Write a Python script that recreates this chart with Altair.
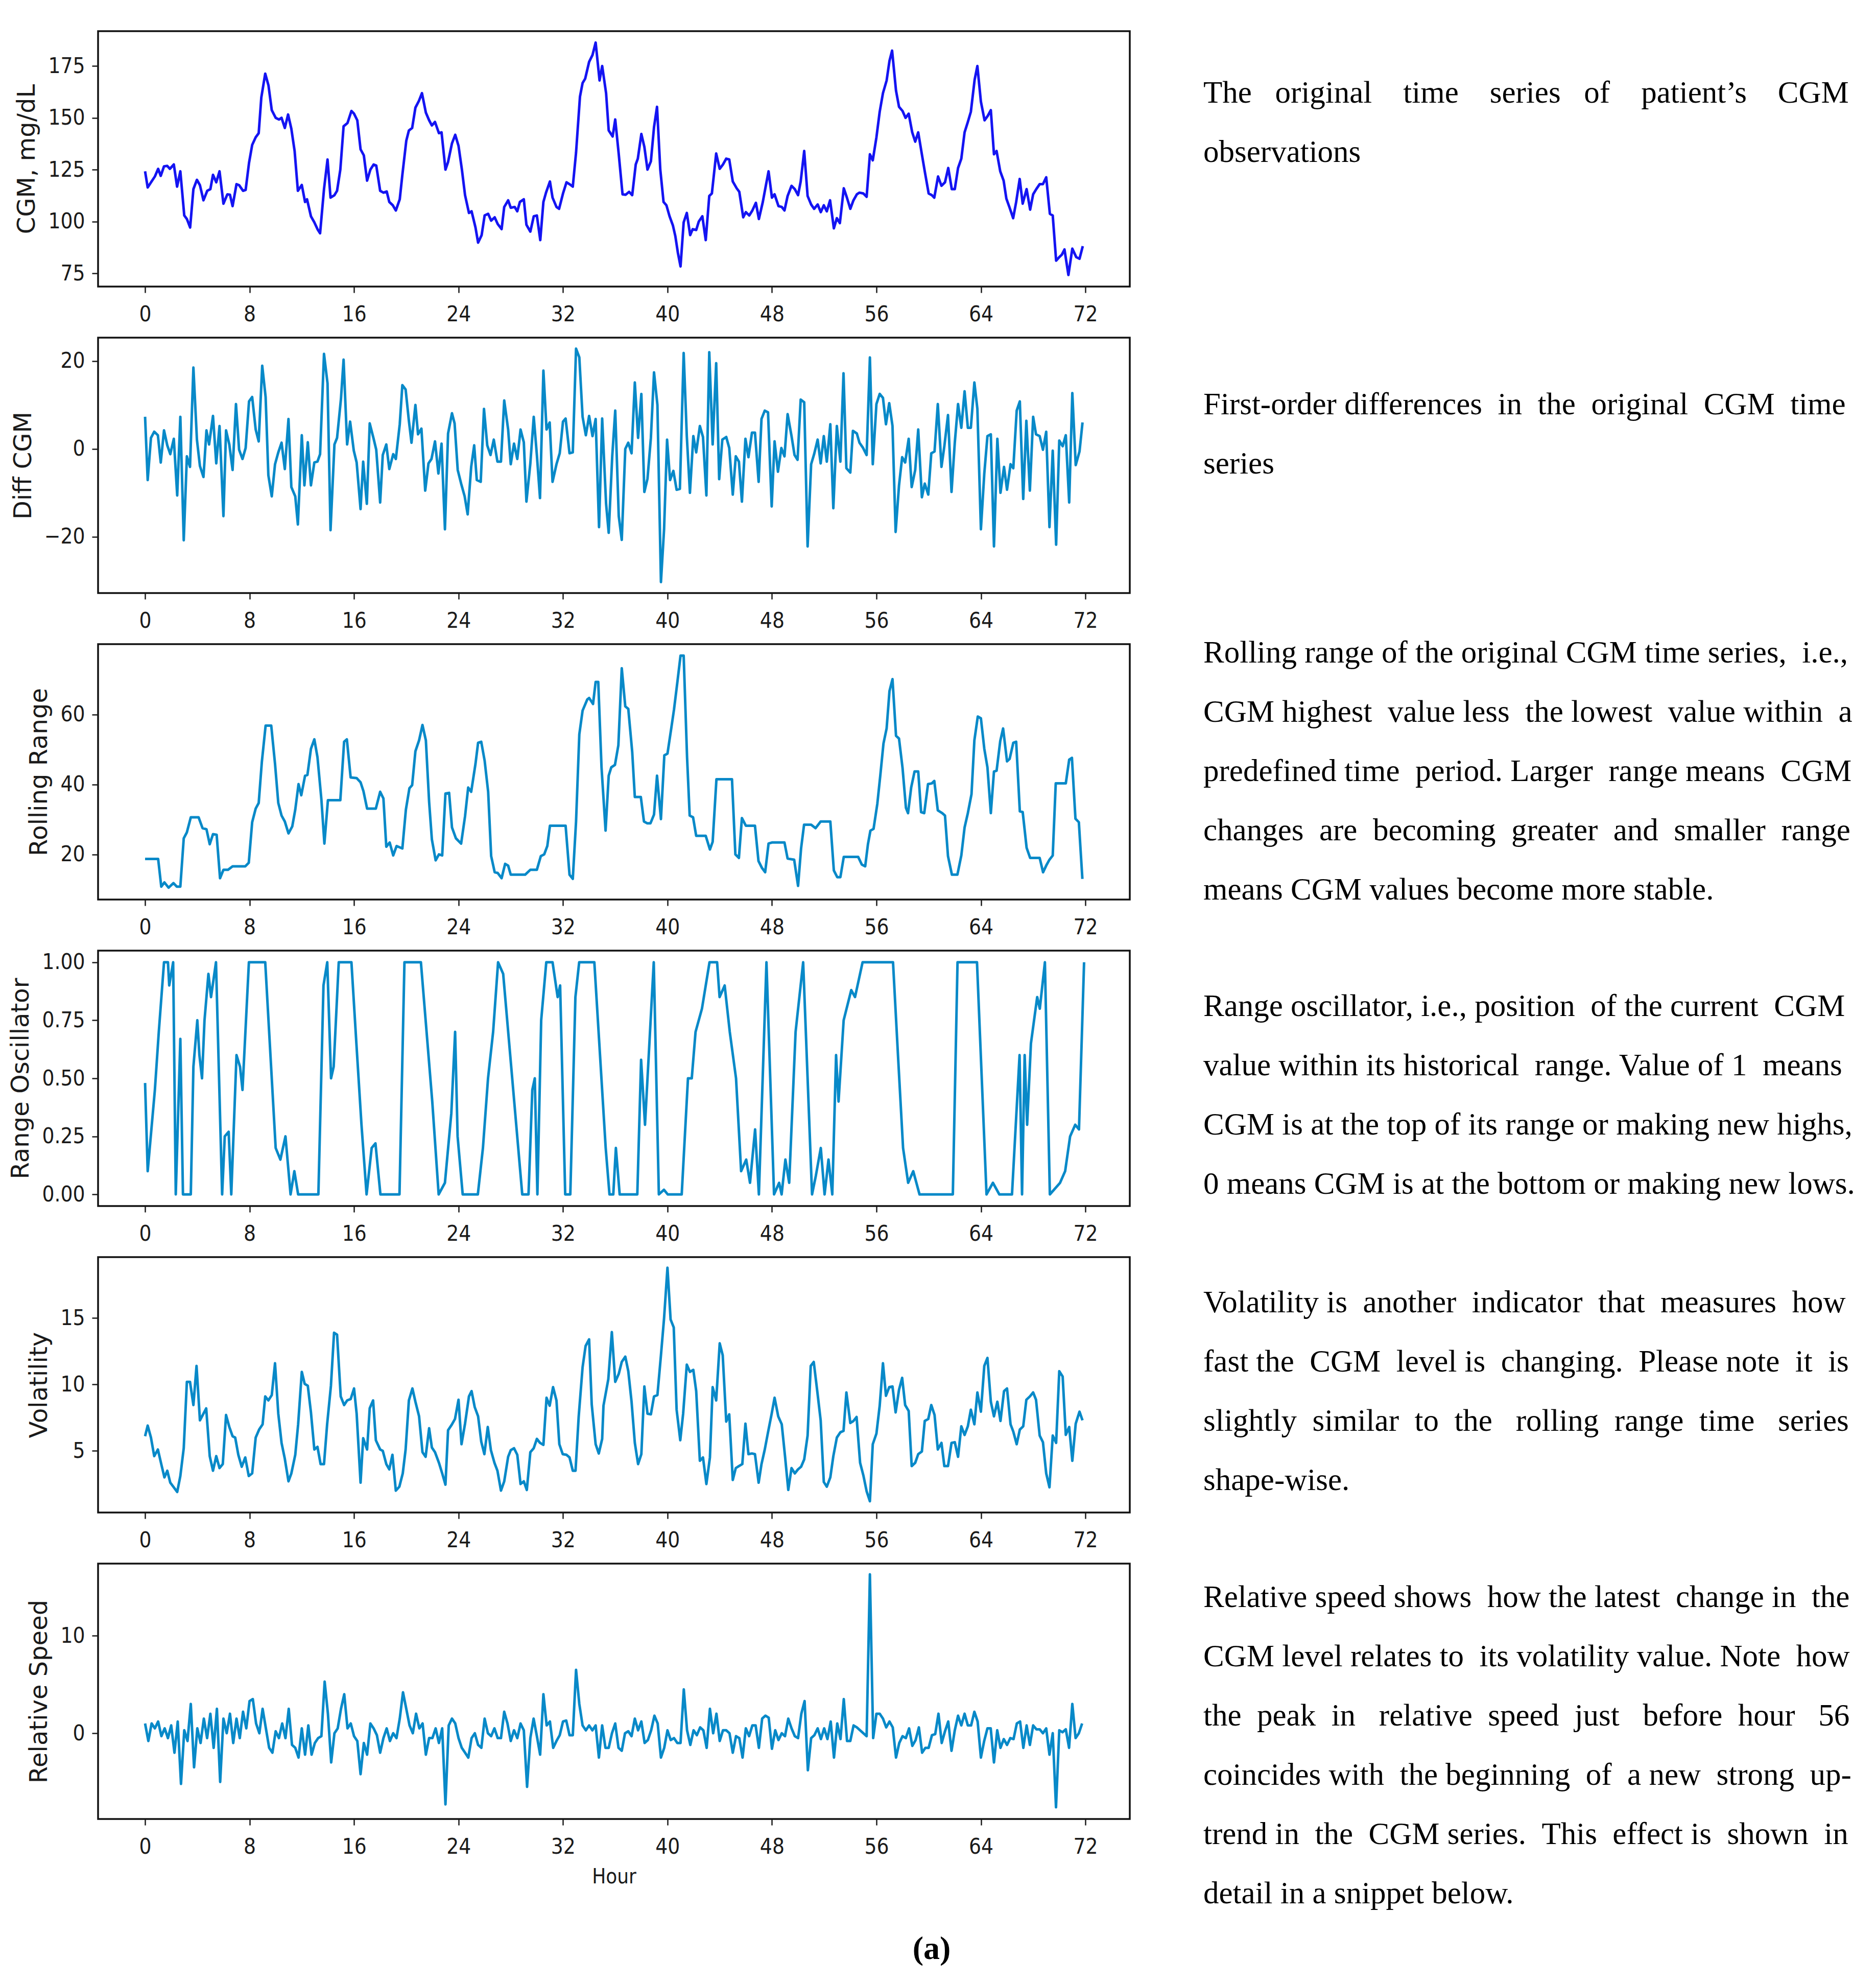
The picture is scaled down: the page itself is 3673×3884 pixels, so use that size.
import altair as alt
import pandas as pd

HOUR_TICKS = [0, 8, 16, 24, 32, 40, 48, 56, 64, 72]

# (hour, value) pairs
cgm = [(0,124.2),(0.2,116.4),(0.5,119.3),(0.75,121.7),(1.0,125.4),(1.2,122),(1.45,126.6),(1.7,126.8),(1.9,125.4),(2.2,127.5),
(2.45,116.8),(2.7,124.2),(3.0,102.9),(3.2,101.2),(3.45,97.1),(3.7,115.6),(3.97,120.1),(4.2,117.5),(4.47,110.2),(4.76,114.8),
(5.0,115.6),(5.2,122.5),(5.45,118.9),(5.7,124.2),(6.0,108.6),(6.3,113.1),(6.5,112.9),(6.7,107.4),(7.0,118),(7.2,117.5),
(7.5,114.8),(7.7,115.2),(7.96,128.3),(8.2,136.9),(8.47,140.6),(8.7,142.6),(8.9,159.8),(9.2,171.3),(9.45,165.6),(9.7,153.7),
(10.0,150),(10.26,149.2),(10.45,150),(10.7,145.1),(10.95,151.6),(11.2,144.7),(11.45,134),(11.7,114.8),(12.0,117.6),(12.25,109.4),
(12.4,110.7),(12.7,102.5),(12.96,99.6),(13.2,96.3),(13.4,94.3),(13.7,115.6),(13.97,129.9),(14.2,111.5),(14.5,112.7),(14.7,114.8),
(14.95,125),(15.2,145.9),(15.5,147.5),(15.8,153.3),(16.0,152),(16.25,148.8),(16.5,134.8),(16.75,131.9),(17.0,119.7),(17.25,125),
(17.5,127.5),(17.7,127),(18.0,114.8),(18.25,113.9),(18.5,114.5),(18.7,109.4),(18.97,107.8),(19.2,105.3),(19.5,110.7),(19.7,122.5),
(20.0,138.9),(20.2,143.9),(20.45,145.1),(20.7,154.9),(20.97,158.2),(21.2,161.9),(21.5,152.5),(21.75,148.8),(21.96,146.3),(22.2,148),
(22.5,142.6),(22.7,143),(23.0,125),(23.2,128.7),(23.5,137.7),(23.75,141.8),(24.0,136.5),(24.26,125),(24.5,112.7),(24.8,104.1),
(25.0,104.9),(25.3,97.1),(25.5,89.8),(25.77,93.4),(26.0,102.9),(26.27,103.7),(26.5,100.4),(26.77,102),(27.0,98.8),(27.3,96.3),
(27.5,107),(27.8,110.2),(28.0,106.6),(28.3,107),(28.5,104.9),(28.7,109.4),(29.0,110.7),(29.2,98.4),(29.5,95.1),(29.76,102.5),
(30.0,102.9),(30.26,91),(30.5,109.4),(30.7,113.9),(31.0,119.3),(31.2,111.5),(31.5,107),(31.7,106.1),(32.0,113.5),(32.27,118.9),
(32.5,118),(32.75,116.8),(33.0,133.2),(33.3,160.2),(33.5,166.8),(33.7,168.9),(34.0,177),(34.26,180.3),(34.5,186.3),(34.8,168),
(35.0,175),(35.3,161.9),(35.5,143.9),(35.8,141),(36.0,149.2),(36.27,132.4),(36.56,113.1),(36.8,112.9),(37.06,114.3),(37.3,112.7),
(37.57,127.5),(37.73,130.3),(38.0,142.2),(38.23,136),(38.47,125),(38.73,129),(38.97,145.5),(39.2,155.3),(39.45,125),(39.7,109.4),
(39.92,107.8),(40.16,102.5),(40.42,98),(40.6,93),(40.8,84.8),(41.0,78.3),(41.24,99.6),(41.48,104.1),(41.74,93.4),(41.93,96.3),
(42.2,95.9),(42.4,100),(42.67,102.5),(42.93,91),(43.2,112.3),(43.4,113.5),(43.73,132.8),(44.0,125.4),(44.25,127.5),(44.5,130.3),
(44.73,129.9),(45.0,119.3),(45.3,116),(45.5,114.3),(45.8,102),(46.0,104.5),(46.26,102.9),(46.5,105.3),(46.77,109),(47.0,101.2),
(47.3,109.4),(47.53,117.2),(47.74,124.2),(48.0,111.5),(48.2,113.1),(48.5,107.4),(48.75,107),(48.96,105.3),(49.2,112.3),(49.5,117.2),
(49.75,115.6),(50.0,112.7),(50.2,119.3),(50.47,134),(50.73,112.3),(51.0,108.2),(51.23,106.1),(51.5,108.2),(51.74,104.5),(51.97,107.8),
(52.2,104.9),(52.45,110.2),(52.74,96.7),(52.97,101.6),(53.2,99.2),(53.5,116),(53.74,111.5),(54.0,106.1),(54.24,110.2),(54.5,113.1),
(54.7,113.9),(55.0,113.5),(55.25,111.9),(55.5,132.4),(55.72,129.5),(56.0,140.6),(56.25,152.9),(56.5,161.9),(56.78,168),(57.0,177.5),
(57.2,182.4),(57.5,163.1),(57.73,155.3),(58.0,153.3),(58.23,150),(58.47,152),(58.74,143),(58.97,138.5),(59.2,143),(59.48,132.4),
(59.7,124.2),(60.0,113.5),(60.24,112.7),(60.43,111.5),(60.72,121.7),(60.98,117.2),(61.25,118.9),(61.5,125.8),(61.77,115.6),(62.0,115.6),
(62.25,125.8),(62.5,130.3),(62.75,143),(63.0,148),(63.23,152.9),(63.52,168.4),(63.73,175),(64.0,157.8),(64.28,148.8),(64.52,150.9),
(64.76,153.7),(65.0,132.4),(65.2,134),(65.48,124.2),(65.74,119.7),(65.95,111),(66.2,106.6),(66.47,101.6),(66.7,109.4),(66.97,120.5),
(67.2,108.6),(67.5,115.6),(67.77,105.7),(68.0,113.1),(68.24,115.6),(68.5,118),(68.75,118),(69.0,121.3),(69.28,103.7),(69.5,102.9),
(69.76,81.1),(70.0,82.8),(70.2,84),(70.4,86.5),(70.7,74.2),(71.0,86.9),(71.3,82.8),(71.55,82),(71.8,88.1)]

diff_cgm = [(0,7.3),(0.2,-7.1),(0.45,2.5),(0.7,3.9),(0.98,3.1),(1.2,-3.1),(1.45,4.2),(1.7,0.8),(1.93,-1.2),(2.2,2.3),
(2.46,-10.6),(2.7,7.3),(2.96,-20.8),(3.2,-1.7),(3.44,-4.1),(3.7,18.5),(3.97,2.1),(4.2,-3.9),(4.47,-6.4),(4.7,4.2),
(4.9,1.0),(5.2,7.5),(5.45,-3.3),(5.7,5.2),(6.0,-15.3),(6.2,4.2),(6.45,1.0),(6.7,-4.8),(6.96,10.2),(7.2,-0.2),
(7.46,-2.3),(7.7,0.2),(7.96,10.8),(8.2,11.8),(8.47,4.4),(8.7,1.7),(8.97,18.9),(9.23,11.8),(9.44,-6.0),(9.7,-10.8),
(9.95,-3.5),(10.2,-0.8),(10.45,1.4),(10.7,-4.6),(10.98,6.8),(11.2,-8.7),(11.5,-10.8),(11.7,-17.2),(12.0,3.1),(12.2,-8.3),
(12.46,1.5),(12.7,-8.3),(12.96,-3.1),(13.2,-2.9),(13.4,-1.2),(13.7,21.6),(13.97,14.9),(14.2,-18.5),(14.5,1.0),(14.7,2.5),
(15.0,11.4),(15.2,20.3),(15.47,1.0),(15.7,6.2),(15.98,-0.4),(16.2,-3.1),(16.5,-13.7),(16.7,-2.9),(16.98,-12.5),(17.2,5.8),
(17.5,2.3),(17.7,-0.2),(18.0,-12.2),(18.2,-1.4),(18.47,1.0),(18.7,-4.6),(19.0,-1.2),(19.2,-2.3),(19.5,5.6),(19.7,14.5),
(19.95,13.5),(20.2,6.4),(20.4,1.4),(20.7,10.0),(20.9,3.3),(21.16,4.6),(21.45,-9.5),(21.7,-3.3),(21.93,-2.3),(22.2,1.7),
(22.46,-5.6),(22.7,1.2),(22.96,-18.3),(23.2,3.5),(23.5,8.1),(23.7,5.8),(23.94,-4.8),(24.2,-7.9),(24.47,-10.8),(24.7,-14.9),
(24.97,-4.1),(25.2,0.8),(25.4,-7.1),(25.7,-7.5),(25.95,9.1),(26.2,0.8),(26.45,-1.4),(26.7,2.1),(26.98,-2.9),(27.25,-2.9),
(27.5,11.0),(27.8,4.4),(28.0,-3.5),(28.25,1.2),(28.5,-2.3),(28.75,4.4),(29.0,1.5),(29.2,-12.0),(29.5,-3.3),(29.76,7.3),
(30.0,-1.4),(30.24,-11.2),(30.5,17.8),(30.74,4.4),(30.98,6.0),(31.2,-7.5),(31.5,-3.5),(31.75,-1.0),(32.0,6.2),(32.2,6.9),
(32.5,-1.0),(32.75,-0.8),(33.0,22.8),(33.25,20.8),(33.5,7.3),(33.75,3.1),(34.0,7.5),(34.26,2.9),(34.5,6.8),(34.76,-17.8),
(35.0,6.9),(35.3,-12.5),(35.5,-19.1),(35.77,-1.7),(36.0,8.7),(36.27,-15.3),(36.5,-20.7),(36.77,0),(37.0,1.4),(37.25,-1.0),
(37.5,15.1),(37.75,2.5),(38.0,12.5),(38.23,-9.8),(38.47,-6.8),(38.73,2.5),(38.97,17.4),(39.23,10.0),(39.5,-30.3),(39.74,-18.3),
(39.97,2.1),(40.2,-7.1),(40.45,-5.0),(40.7,-9.3),(40.95,-9.1),(41.24,21.8),(41.48,2.9),(41.72,-10.0),(41.98,2.9),(42.2,-0.8),
(42.48,5.2),(42.72,2.7),(42.98,-10.6),(43.2,22.0),(43.46,1.0),(43.73,19.5),(43.96,-6.9),(44.2,2.1),(44.5,2.7),(44.73,0.2),
(45.0,-10.4),(45.23,-1.7),(45.47,-2.9),(45.7,-12.0),(45.97,2.3),(46.2,-1.9),(46.47,3.7),(46.7,3.7),(46.98,-7.5),(47.2,6.8),
(47.45,8.7),(47.7,8.3),(47.98,-13.1),(48.2,1.7),(48.46,-5.2),(48.72,0.2),(48.96,-1.7),(49.2,7.9),(49.5,2.9),(49.73,-1.4),
(49.96,-2.5),(50.2,11.2),(50.47,10.6),(50.73,-22.2),(51.0,-3.5),(51.23,-1.2),(51.5,2.1),(51.73,-3.3),(51.97,2.9),(52.2,-2.9),
(52.47,5.6),(52.7,-13.5),(52.97,5.2),(53.24,-2.9),(53.48,17.2),(53.7,-4.4),(54.0,-5.4),(54.2,4.1),(54.5,3.5),(54.7,1.4),
(54.98,0.2),(55.25,-1.4),(55.5,20.8),(55.72,-3.5),(56.0,10.2),(56.25,12.5),(56.5,11.6),(56.73,5.6),(56.98,10.4),(57.23,5.2),
(57.47,-18.9),(57.73,-8.3),(57.97,-1.9),(58.2,-3.1),(58.47,2.3),(58.7,-8.7),(58.97,-4.8),(59.2,4.4),(59.48,-11.0),(59.7,-7.9),
(59.97,-10.4),(60.2,-1.0),(60.45,-0.6),(60.7,10.2),(60.98,-4.1),(61.2,0.6),(61.48,7.7),(61.75,-9.8),(62.0,1.4),(62.25,10.2),
(62.5,4.8),(62.75,13.1),(63.0,4.8),(63.23,4.8),(63.5,15.1),(63.73,9.1),(64.0,-18.3),(64.26,-5.6),(64.5,2.9),(64.76,3.3),
(65.0,-22.2),(65.26,2.3),(65.5,-10.0),(65.77,-4.1),(66.0,-9.3),(66.27,-3.5),(66.48,-4.4),(66.74,8.7),(66.98,10.8),(67.24,-11.4),
(67.48,6.4),(67.75,-9.5),(68.0,7.3),(68.22,3.3),(68.5,2.9),(68.75,-0.2),(69.0,3.9),(69.25,-17.8),(69.5,-0.4),(69.76,-21.8),
(70.0,1.9),(70.26,0.6),(70.5,3.1),(70.76,-12.2),(71.0,12.7),(71.26,-3.7),(71.55,-0.6),(71.78,6.0)]

rolling_range = [(0,18.7),(1.0,18.7),(1.24,10.8),(1.48,12.0),(1.8,10.5),(2.17,11.8),(2.43,10.8),(2.7,10.8),(2.96,24.6),(3.2,26.3),
(3.5,30.6),(4.1,30.6),(4.4,27.5),(4.7,27.2),(4.95,22.9),(5.2,25.8),(5.48,25.6),(5.74,13.2),(6.0,15.6),(6.35,15.6),
(6.7,16.6),(7.67,16.6),(7.94,17.6),(8.2,29.2),(8.47,33.1),(8.7,34.7),(8.94,46.4),(9.23,56.8),(9.66,56.8),(9.95,45.9),
(10.2,34.7),(10.45,31.1),(10.7,29.4),(10.98,26.0),(11.27,28.0),(11.5,32.8),(11.75,40.1),(11.96,36.9),(12.25,42.5),(12.43,42.7),
(12.7,50.2),(12.96,52.9),(13.2,47.8),(13.5,35.7),(13.73,23.1),(14.0,35.5),(14.95,35.5),(15.24,52.2),(15.45,52.9),(15.74,42.0),
(16.2,41.8),(16.5,40.6),(16.72,38.1),(17.0,33.1),(17.67,33.1),(18.0,37.9),(18.25,36.0),(18.47,22.2),(18.73,23.4),(19.0,19.7),
(19.26,22.4),(19.7,21.7),(19.97,32.8),(20.24,38.9),(20.45,39.8),(20.7,49.5),(20.98,52.6),(21.24,57.0),(21.5,52.6),(21.75,35.0),
(21.96,24.3),(22.25,18.3),(22.5,20.0),(22.75,19.7),(23.0,37.4),(23.28,37.6),(23.5,27.7),(23.8,24.6),(24.2,23.1),(24.5,30.9),
(24.74,39.1),(24.97,37.9),(25.3,45.9),(25.5,51.9),(25.74,52.2),(26.0,46.8),(26.27,37.9),(26.5,19.5),(26.77,14.9),(27.0,14.7),
(27.3,13.2),(27.57,17.3),(27.8,16.8),(28.0,14.2),(29.1,14.2),(29.5,15.6),(30.0,15.6),(30.3,19.5),(30.56,20.0),(30.8,22.4),
(31.0,28.2),(32.2,28.2),(32.5,14.2),(32.75,13.0),(33.0,29.4),(33.25,54.3),(33.5,61.1),(33.86,64.3),(34.0,64.7),(34.3,63.0),
(34.5,69.3),(34.7,69.3),(34.95,44.9),(35.26,26.8),(35.5,42.5),(35.7,44.9),(35.98,45.6),(36.24,51.2),(36.5,73.2),(36.77,62.3),
(37.0,61.6),(37.3,49.3),(37.5,36.4),(37.96,36.4),(38.2,29.4),(38.44,28.9),(38.7,28.9),(38.97,31.4),(39.2,42.5),(39.5,30.1),
(39.76,48.3),(40.0,48.8),(40.3,56.3),(40.5,61.4),(40.77,69.6),(41.0,76.8),(41.24,76.8),(41.5,47.8),(41.7,31.1),(41.96,30.6),
(42.2,25.3),(42.93,25.3),(43.25,21.4),(43.46,23.6),(43.75,41.5),(44.94,41.5),(45.2,20.0),(45.47,19.0),(45.7,30.4),(46.0,28.2),
(46.7,28.2),(46.97,18.1),(47.24,16.1),(47.48,14.9),(47.74,23.1),(48.0,23.4),(48.96,23.4),(49.2,18.8),(49.7,18.5),(50.0,11.0),
(50.23,21.7),(50.46,28.5),(51.0,28.5),(51.34,27.5),(51.73,29.4),(52.47,29.4),(52.74,15.4),(53.0,13.5),(53.24,13.5),(53.5,19.3),
(54.6,19.3),(54.88,17.1),(55.14,16.6),(55.35,22.9),(55.54,26.8),(55.78,27.3),(56.07,34.5),(56.3,42.7),(56.54,51.7),(56.78,56.0),
(57.0,66.7),(57.23,70.1),(57.5,53.9),(57.73,53.1),(58.0,44.7),(58.26,33.3),(58.42,31.8),(58.66,39.1),(58.92,43.7),(59.2,43.7),
(59.42,32.1),(59.66,31.8),(59.95,40.1),(60.24,40.3),(60.43,41.0),(60.7,32.6),(61.04,31.8),(61.25,31.1),(61.48,19.5),(61.78,14.2),
(62.2,14.2),(62.5,19.7),(62.75,27.7),(63.0,31.8),(63.28,37.2),(63.5,52.6),(63.76,59.4),(64.0,58.9),(64.26,50.2),(64.5,44.9),
(64.76,31.8),(65.0,43.7),(65.2,43.9),(65.48,52.4),(65.7,56.0),(66.0,46.6),(66.2,47.3),(66.48,51.9),(66.7,52.2),(66.98,32.3),
(67.2,32.1),(67.5,21.9),(67.77,19.0),(68.5,19.0),(68.76,14.9),(69.0,16.8),(69.25,18.5),(69.5,19.7),(69.73,40.3),(70.5,40.3),
(70.76,47.1),(70.97,47.6),(71.24,30.2),(71.5,29.2),(71.77,13.0)]

range_osc = [(0,0.48),(0.2,0.1),(0.75,0.45),(1.05,0.7),(1.45,1.0),(1.75,1.0),(1.85,0.9),(2.15,1.0),(2.35,0.0),(2.7,0.67),
(2.9,0.0),(3.5,0.0),(3.7,0.55),(4.0,0.75),(4.16,0.6),(4.36,0.5),(4.55,0.75),(4.85,0.95),(5.05,0.85),(5.43,1.0),
(5.9,0.0),(6.1,0.25),(6.4,0.27),(6.6,0.0),(7.0,0.6),(7.27,0.55),(7.46,0.45),(7.95,1.0),(9.2,1.0),(9.6,0.6),
(10.0,0.2),(10.36,0.15),(10.75,0.25),(11.14,0.0),(11.43,0.1),(11.72,0.0),(13.27,0.0),(13.66,0.9),(13.95,1.0),(14.24,0.5),
(14.44,0.55),(14.83,1.0),(15.8,1.0),(16.18,0.65),(16.57,0.3),(16.96,0.0),(17.35,0.2),(17.64,0.22),(18.02,0.0),(19.48,0.0),
(19.86,1.0),(21.12,1.0),(21.99,0.4),(22.48,0.0),(22.96,0.05),(23.45,0.35),(23.74,0.7),(23.93,0.25),(24.32,0.0),(25.48,0.0),
(25.87,0.2),(26.26,0.5),(26.65,0.7),(27.03,1.0),(27.42,0.95),(28.88,0.0),(29.36,0.0),(29.65,0.45),(29.84,0.5),(30.04,0.0),
(30.33,0.75),(30.72,1.0),(31.2,1.0),(31.59,0.85),(31.78,0.9),(32.17,0.0),(32.56,0.0),(32.95,0.85),(33.24,1.0),(34.4,1.0),
(35.27,0.2),(35.56,0.0),(35.85,0.0),(36.05,0.2),(36.34,0.0),(37.69,0.0),(37.98,0.58),(38.28,0.3),(38.95,1.0),(39.34,0.0),
(39.73,0.02),(40.02,0.0),(41.09,0.0),(41.57,0.5),(41.86,0.5),(42.15,0.7),(42.64,0.8),(43.22,1.0),(43.8,1.0),(43.99,0.85),
(44.38,0.9),(44.77,0.7),(45.25,0.5),(45.64,0.1),(46.03,0.15),(46.32,0.05),(46.71,0.28),(47.0,0.0),(47.58,1.0),(48.16,0.0),
(48.55,0.05),(48.74,0.0),(49.03,0.15),(49.32,0.05),(49.81,0.7),(50.39,1.0),(51.07,0.0),(51.36,0.08),(51.74,0.2),(52.03,0.0),
(52.33,0.15),(52.62,0.0),(52.91,0.6),(53.1,0.4),(53.49,0.75),(54.07,0.88),(54.36,0.85),(54.94,1.0),(57.27,1.0),(57.65,0.6),
(58.04,0.2),(58.43,0.05),(58.82,0.1),(59.3,0.0),(61.85,0.0),(62.21,1.0),(63.7,1.0),(64.43,0.0),(64.92,0.05),(65.41,0.0),
(66.38,0.0),(66.96,0.6),(67.15,0.0),(67.35,0.6),(67.54,0.3),(67.83,0.65),(68.31,0.85),(68.51,0.8),(68.9,1.0),(69.28,0.0),
(70.06,0.05),(70.45,0.1),(70.83,0.25),(71.22,0.3),(71.51,0.28),(71.9,1.0)]

volatility = [(0,6.1),(0.2,6.9),(0.45,6.0),(0.7,4.6),(0.98,5.1),(1.24,4.0),(1.48,3.0),(1.7,3.5),(1.93,2.6),(2.2,2.25),
(2.46,1.9),(2.7,3.1),(2.96,5.2),(3.2,10.2),(3.44,10.2),(3.7,8.45),(3.94,11.4),(4.2,7.3),(4.44,7.75),(4.68,8.2),
(4.95,4.6),(5.2,3.5),(5.45,4.6),(5.7,3.7),(5.95,4.0),(6.2,7.7),(6.45,6.8),(6.7,6.1),(6.9,6.0),(7.14,4.7),
(7.4,3.8),(7.67,4.5),(7.94,3.1),(8.2,3.3),(8.47,6.0),(8.73,6.6),(9.0,7.0),(9.2,9.1),(9.44,8.8),(9.7,9.2),
(9.95,11.6),(10.2,7.8),(10.45,5.6),(10.7,4.4),(10.98,2.7),(11.2,3.3),(11.5,4.7),(11.72,7.0),(12.0,10.95),(12.22,10.05),
(12.46,9.9),(12.7,7.9),(12.96,5.1),(13.2,5.3),(13.44,4.0),(13.7,4.0),(13.94,7.0),(14.23,9.9),(14.47,13.9),(14.7,13.75),
(14.98,9.1),(15.24,8.45),(15.47,8.8),(15.74,8.9),(16.0,9.7),(16.2,7.8),(16.5,2.6),(16.7,5.95),(17.0,5.1),(17.2,8.2),
(17.46,8.8),(17.67,5.8),(18.0,5.1),(18.2,5.0),(18.47,4.0),(18.7,3.6),(18.94,4.7),(19.2,2.0),(19.47,2.3),(19.73,3.3),
(19.95,5.1),(20.2,8.8),(20.47,9.7),(20.7,8.7),(20.98,7.6),(21.24,4.9),(21.48,4.55),(21.75,6.7),(21.96,5.25),(22.2,4.9),
(22.5,4.1),(22.75,3.3),(23.0,2.45),(23.2,6.55),(23.5,7.0),(23.73,7.4),(24.0,8.85),(24.23,5.5),(24.5,7.05),(24.8,9.1),
(25.0,9.5),(25.24,8.3),(25.5,7.6),(25.74,5.7),(25.98,4.75),(26.24,6.8),(26.48,5.05),(26.75,4.1),(26.98,3.5),(27.25,2.0),
(27.5,2.7),(27.8,4.55),(28.0,5.05),(28.25,5.2),(28.5,4.7),(28.75,2.5),(29.0,2.7),(29.23,2.05),(29.5,4.9),(29.76,5.2),
(30.0,5.9),(30.24,5.6),(30.5,5.45),(30.74,9.0),(30.98,8.4),(31.24,9.8),(31.5,8.8),(31.72,5.5),(31.98,4.75),(32.27,4.7),
(32.5,4.5),(32.75,3.5),(32.96,3.5),(33.2,7.55),(33.5,11.3),(33.73,12.9),(34.0,13.4),(34.2,8.5),(34.5,5.5),(34.74,4.8),
(35.0,5.9),(35.1,8.4),(35.47,10.4),(35.74,13.95),(36.0,10.2),(36.27,10.8),(36.5,11.7),(36.77,12.1),(37.0,11.0),(37.25,8.7),
(37.5,5.6),(37.75,4.0),(38.0,4.75),(38.23,9.85),(38.47,7.8),(38.73,7.75),(38.97,9.1),(39.23,9.2),(39.5,12.2),(39.74,15.0),
(40.0,18.8),(40.24,14.9),(40.48,14.3),(40.7,8.1),(40.98,5.8),(41.2,7.8),(41.48,11.5),(41.72,10.95),(41.98,11.1),(42.2,9.5),
(42.48,4.25),(42.72,4.5),(42.98,2.5),(43.25,4.5),(43.46,9.8),(43.73,8.8),(44.0,13.1),(44.23,12.2),(44.5,7.2),(44.73,7.75),
(45.0,2.8),(45.23,3.7),(45.47,3.85),(45.73,4.0),(45.97,7.05),(46.2,4.75),(46.47,4.8),(46.7,4.75),(46.98,2.6),(47.2,4.0),
(47.45,5.1),(47.7,6.4),(47.98,7.8),(48.2,9.0),(48.48,7.6),(48.75,7.0),(49.0,4.6),(49.25,2.05),(49.5,3.7),(49.75,3.3),
(49.99,3.6),(50.23,3.8),(50.47,4.35),(50.73,6.15),(50.97,11.4),(51.2,11.7),(51.47,9.5),(51.73,7.3),(51.97,2.65),(52.2,2.3),
(52.47,3.0),(52.7,4.6),(52.97,6.0),(53.24,6.4),(53.48,6.5),(53.7,9.4),(54.0,7.1),(54.24,7.25),(54.48,7.55),(54.75,4.1),
(55.0,3.15),(55.25,1.95),(55.5,1.2),(55.72,5.5),(56.0,6.3),(56.25,8.4),(56.5,11.6),(56.73,9.15),(56.98,9.8),(57.23,9.85),
(57.47,7.9),(57.73,9.6),(57.97,10.5),(58.2,8.45),(58.47,8.0),(58.7,3.85),(58.97,4.1),(59.2,4.75),(59.48,4.95),(59.7,7.25),
(59.97,7.4),(60.2,8.45),(60.45,7.7),(60.7,5.1),(60.98,5.6),(61.2,3.85),(61.48,3.85),(61.75,5.6),(62.0,5.65),(62.25,4.55),
(62.5,6.85),(62.75,6.2),(63.0,6.85),(63.23,8.1),(63.5,7.0),(63.73,9.4),(64.0,7.95),(64.26,11.4),(64.5,12.0),(64.76,8.7),
(65.0,7.6),(65.26,8.7),(65.5,7.25),(65.77,9.5),(66.0,9.7),(66.27,7.0),(66.48,6.45),(66.74,5.5),(66.98,6.6),(67.24,6.85),
(67.48,8.85),(67.75,9.1),(68.0,9.4),(68.22,8.85),(68.5,6.15),(68.75,5.65),(69.0,3.3),(69.25,2.25),(69.5,6.15),(69.76,5.6),
(70.0,11.0),(70.26,10.6),(70.5,6.2),(70.76,6.8),(71.0,4.25),(71.26,7.05),(71.55,7.95),(71.78,7.3)]

relative_speed = [(0,1.0),(0.25,-0.8),(0.5,1.0),(0.75,0.5),(1.0,1.2),(1.25,-0.3),(1.5,0.5),(1.75,-0.5),(2.0,0.8),(2.25,-2.0),
(2.5,1.2),(2.75,-5.2),(3.0,0.3),(3.25,-0.8),(3.5,3.0),(3.75,-3.5),(4.0,0.5),(4.25,-1.0),(4.5,1.5),(4.75,-0.5),
(5.0,2.0),(5.25,-1.5),(5.5,2.5),(5.75,-5.0),(6.0,1.5),(6.25,0),(6.5,2.0),(6.75,-1.0),(7.0,1.5),(7.25,-0.5),
(7.5,2.2),(7.75,0.5),(8.0,3.3),(8.25,3.5),(8.5,1.0),(8.75,0),(9.0,2.5),(9.25,0.5),(9.5,-1.5),(9.75,-2.0),
(10.0,0.2),(10.25,-0.5),(10.5,1.0),(10.75,-0.5),(11.0,2.5),(11.25,-1.2),(11.5,-1.5),(11.75,-2.5),(12.0,0.5),(12.25,-2.2),
(12.5,0.8),(12.75,-2.2),(13.0,-1.0),(13.25,-0.5),(13.5,-0.3),(13.75,5.3),(14.0,2.0),(14.25,-3.0),(14.5,0),(14.75,0.5),
(15.0,2.5),(15.25,4.0),(15.5,0.5),(15.75,1.0),(16.0,-0.3),(16.25,-0.8),(16.5,-4.2),(16.75,-1.0),(17.0,-2.2),(17.25,1.0),
(17.5,0.5),(17.75,-0.2),(18.0,-2.0),(18.25,-0.5),(18.5,0.5),(18.75,-0.8),(19.0,0),(19.25,-0.5),(19.5,1.5),(19.75,4.2),
(20.0,2.5),(20.25,0.8),(20.5,0),(20.75,2.0),(21.0,0.5),(21.25,1.0),(21.5,-2.2),(21.75,-0.5),(22.0,-0.5),(22.25,0.5),
(22.5,-1.0),(22.75,0.5),(23.0,-7.3),(23.25,0.8),(23.5,1.5),(23.75,1.0),(24.0,-0.5),(24.25,-1.5),(24.5,-2.0),(24.75,-2.5),
(25.0,-0.5),(25.25,0),(25.5,-1.2),(25.75,-1.5),(26.0,1.5),(26.25,0),(26.5,-0.3),(26.75,0.5),(27.0,-0.5),(27.25,-0.5),
(27.5,2.2),(27.75,1.0),(28.0,-0.8),(28.25,0.3),(28.5,-0.5),(28.75,1.0),(29.0,0.3),(29.25,-5.5),(29.5,-0.5),(29.75,1.5),
(30.0,-0.3),(30.25,-2.2),(30.5,4.0),(30.75,0.8),(31.0,1.2),(31.25,-1.5),(31.5,-0.8),(31.75,-0.2),(32.0,1.2),(32.25,1.3),
(32.5,-0.2),(32.75,-0.2),(33.0,6.5),(33.25,3.0),(33.5,0.8),(33.75,0.3),(34.0,0.8),(34.25,0.3),(34.5,0.8),(34.75,-2.5),
(35.0,0.8),(35.25,-1.5),(35.5,-1.5),(35.75,0),(36.0,1.0),(36.25,-1.5),(36.5,-1.8),(36.75,0),(37.0,0.2),(37.25,-0.3),
(37.5,1.5),(37.75,0.3),(38.0,1.2),(38.25,-1.0),(38.5,-0.7),(38.75,0.3),(39.0,1.8),(39.25,1.0),(39.5,-2.5),(39.75,-1.5),
(40.0,0.3),(40.25,-0.7),(40.5,-0.5),(40.75,-1.0),(41.0,-1.0),(41.25,4.5),(41.5,0.3),(41.75,-1.2),(42.0,0.3),(42.25,-0.2),
(42.5,0.6),(42.75,0.3),(43.0,-1.5),(43.25,2.5),(43.5,0),(43.75,2.0),(44.0,-0.8),(44.25,0.3),(44.5,0.3),(44.75,0),
(45.0,-2.0),(45.25,-0.3),(45.5,-0.5),(45.75,-2.5),(46.0,0.5),(46.25,-0.3),(46.5,0.8),(46.75,0.8),(47.0,-1.5),(47.25,1.5),
(47.5,1.8),(47.75,1.6),(48.0,-1.6),(48.25,0.3),(48.5,-0.7),(48.75,0),(49.0,-0.3),(49.25,1.5),(49.5,0.5),(49.75,-0.3),
(50.0,-0.5),(50.25,2.0),(50.5,3.3),(50.75,-3.8),(51.0,-0.5),(51.25,-0.2),(51.5,0.5),(51.75,-0.6),(52.0,0.5),(52.25,-0.6),
(52.5,1.2),(52.75,-2.5),(53.0,1.0),(53.25,-0.6),(53.5,3.5),(53.75,-0.8),(54.0,-0.8),(54.25,0.8),(54.5,0.6),(54.75,0.3),
(55.0,0),(55.25,-0.3),(55.5,16.3),(55.75,-0.5),(56.0,2.0),(56.25,2.0),(56.5,1.5),(56.75,0.6),(57.0,1.2),(57.25,0.6),
(57.5,-2.5),(57.75,-1.0),(58.0,-0.3),(58.25,-0.5),(58.5,0.5),(58.75,-1.3),(59.0,-0.7),(59.25,0.6),(59.5,-2.0),(59.75,-1.5),
(60.0,-1.5),(60.25,-0.2),(60.5,-0.1),(60.75,2.0),(61.0,-1.0),(61.25,0.2),(61.5,1.2),(61.75,-1.8),(62.0,0.3),(62.25,1.8),
(62.5,0.8),(62.75,2.0),(63.0,0.8),(63.25,0.8),(63.5,2.2),(63.75,1.2),(64.0,-2.5),(64.25,-0.8),(64.5,0.5),(64.75,0.5),
(65.0,-3.0),(65.25,0.3),(65.5,-1.5),(65.75,-0.6),(66.0,-1.2),(66.25,-0.5),(66.5,-0.6),(66.75,1.0),(67.0,1.2),(67.25,-1.5),
(67.5,0.8),(67.75,-1.2),(68.0,0.8),(68.25,0.4),(68.5,0.4),(68.75,0),(69.0,0.5),(69.25,-2.2),(69.5,0),(69.75,-7.6),
(70.0,0.3),(70.25,0.1),(70.5,0.4),(70.75,-1.5),(71.0,3.0),(71.25,-0.5),(71.5,0),(71.75,1.0)]

descriptions = [
    ["The original time series of patient\u2019s CGM", "observations"],
    ["First-order differences in the original CGM time", "series"],
    ["Rolling range of the original CGM time series, i.e.,",
     "CGM highest value less the lowest value within a",
     "predefined time period. Larger range means CGM",
     "changes are becoming greater and smaller range",
     "means CGM values become more stable."],
    ["Range oscillator, i.e., position of the current CGM",
     "value within its historical range. Value of 1 means",
     "CGM is at the top of its range or making new highs,",
     "0 means CGM is at the bottom or making new lows."],
    ["Volatility is another indicator that measures how",
     "fast the CGM level is changing. Please note it is",
     "slightly similar to the rolling range time series",
     "shape-wise."],
    ["Relative speed shows how the latest change in the",
     "CGM level relates to its volatility value. Note how",
     "the peak in relative speed just before hour 56",
     "coincides with the beginning of a new strong up-",
     "trend in the CGM series. This effect is shown in",
     "detail in a snippet below."],
]

panels = [
    dict(data=cgm, title="CGM, mg/dL", domain=[68.6, 191.8], ticks=[75, 100, 125, 150, 175], color="#1414f2", fmt="d"),
    dict(data=diff_cgm, title="Diff CGM", domain=[-32.8, 25.3], ticks=[-20, 0, 20], color="#0889c8", fmt="d"),
    dict(data=rolling_range, title="Rolling Range", domain=[7.1, 80.1], ticks=[20, 40, 60], color="#0889c8", fmt="d"),
    dict(data=range_osc, title="Range Oscillator", domain=[-0.05, 1.05], ticks=[0, 0.25, 0.5, 0.75, 1.0], color="#0889c8", fmt=".2f"),
    dict(data=volatility, title="Volatility", domain=[0.35, 19.6], ticks=[5, 10, 15], color="#0889c8", fmt="d"),
    dict(data=relative_speed, title="Relative Speed", domain=[-8.8, 17.4], ticks=[0, 10], color="#0889c8", fmt="d"),
]

# ---- layout / styling ----
PW, PH = 2020, 500
TEXT_W = 1265
LINE_STEP = 116
FIRST_LINE = [122, 132, 18, 110, 90, 67]
TEXT_SIZE = 61
SERIF_EM = {' ': .25, '.': .25, ',': .25, '-': .333, '\u2019': .333,
            'a': .444, 'b': .5, 'c': .444, 'd': .5, 'e': .444, 'f': .333, 'g': .5, 'h': .5, 'i': .278, 'j': .278,
            'k': .5, 'l': .278, 'm': .778, 'n': .5, 'o': .5, 'p': .5, 'q': .5, 'r': .333, 's': .389, 't': .278,
            'u': .5, 'v': .5, 'w': .722, 'x': .5, 'y': .5, 'z': .444,
            'C': .667, 'G': .722, 'M': .889, 'T': .611, 'R': .667, 'F': .556, 'L': .611, 'N': .722, 'P': .556,
            'V': .722, 'O': .722, 'S': .556, 'D': .722}


def text_width(s):
    return sum(SERIF_EM.get(ch, .5) for ch in s) * TEXT_SIZE


def justify(line):
    """Spread words over the column width with extra no-break spaces (text stays text)."""
    words = line.split()
    gaps = len(words) - 1
    if gaps < 1:
        return line
    extra = TEXT_W - text_width(line)
    n = max(0, int(round(extra / (SERIF_EM[' '] * TEXT_SIZE))))
    out = words[0]
    for g in range(gaps):
        k = ((g + 1) * n) // gaps - (g * n) // gaps
        out += " " + "\u00a0" * k + words[g + 1]
    return out


cells = []
for i, p in enumerate(panels):
    df = pd.DataFrame(p["data"], columns=["hour", "value"])
    last = i == len(panels) - 1
    xaxis = alt.Axis(values=HOUR_TICKS, title="Hour" if last else None, grid=False, format="d")
    line = alt.Chart(df).mark_line(color=p["color"], strokeWidth=5, strokeJoin="round").encode(
        x=alt.X("hour:Q", scale=alt.Scale(domain=[-3.6, 75.4], nice=False, zero=False), axis=xaxis),
        y=alt.Y("value:Q", scale=alt.Scale(domain=p["domain"], nice=False, zero=False),
                axis=alt.Axis(values=p["ticks"], title=p["title"], grid=False, format=p["fmt"])),
    ).properties(width=PW, height=PH)

    lines = descriptions[i]
    shown = [justify(s) if j < len(lines) - 1 else s for j, s in enumerate(lines)]
    tdf = pd.DataFrame({"line": list(range(len(lines))), "text": shown})
    d0 = -FIRST_LINE[i] / LINE_STEP
    d1 = (PH - FIRST_LINE[i]) / LINE_STEP
    txt = alt.Chart(tdf).mark_text(align="left", baseline="middle", font="Liberation Serif",
                                   fontSize=TEXT_SIZE, color="black").encode(
        x=alt.value(0),
        y=alt.Y("line:Q", scale=alt.Scale(domain=[d0, d1], reverse=True, nice=False, zero=False), axis=None),
        text="text:N",
    ).properties(width=TEXT_W, height=PH, view=alt.ViewConfig(strokeWidth=0, stroke="transparent"))

    cells.extend([line, txt])

chart = alt.concat(*cells, columns=2, spacing={"row": 100, "column": 144}, bounds="flush").properties(
    padding={"left": 8, "top": 51, "right": 4, "bottom": 4},
    background="white",
    title=alt.TitleParams("(a)", orient="bottom", anchor="middle", font="Liberation Serif",
                          fontSize=64, fontWeight="bold", color="black", offset=46),
).configure_view(
    stroke="#111111", strokeWidth=3.5
).configure_axis(
    labelFont="DejaVu Sans Condensed, DejaVu Sans", labelFontSize=42, labelColor="#1a1a1a",
    titleFont="DejaVu Sans", titleFontSize=48, titleColor="#1a1a1a", titleFontWeight="normal",
    tickColor="#1a1a1a", tickSize=12, tickWidth=2.5, domain=False,
    labelPadding=14, titlePadding=16,
).configure_axisX(labelPadding=22, titlePadding=18, titleFont="DejaVu Sans Condensed, DejaVu Sans", titleFontSize=40)

chart.save("out.html", embed_options={"renderer": "svg", "actions": False})
